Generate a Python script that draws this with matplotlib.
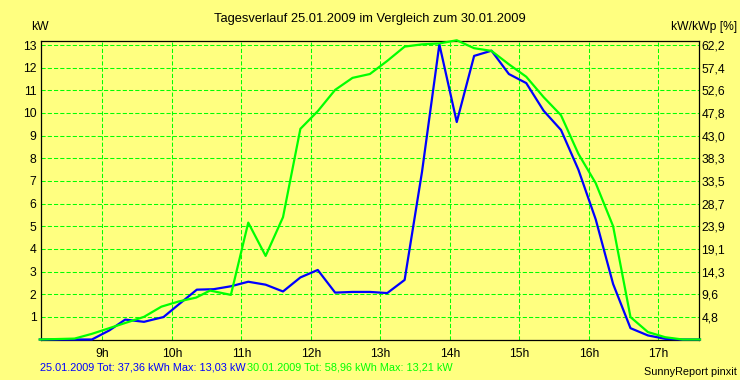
import matplotlib
matplotlib.use("Agg")
import matplotlib.pyplot as plt

# Tagesverlauf 25.01.2009 (blau) und 30.01.2009 (grün), Werte in kW
hours_a = [8.10, 8.60, 8.85, 9.10, 9.33, 9.49, 9.60, 9.73, 9.88, 10.10, 10.36, 10.60,
           10.85, 11.10, 11.35, 11.60, 11.85, 12.10, 12.35, 12.60, 12.85, 13.10, 13.35,
           13.60, 13.85, 14.10, 14.35, 14.60, 14.85, 15.10, 15.35, 15.60, 15.85, 16.10,
           16.35, 16.60, 16.85, 17.10, 17.35, 17.60]
power_a = [0.0, 0.0, 0.0, 0.40, 0.88, 0.82, 0.78, 0.88, 0.99, 1.55, 2.20, 2.22,
           2.35, 2.55, 2.42, 2.12, 2.74, 3.07, 2.07, 2.10, 2.10, 2.05, 2.63,
           7.40, 13.03, 9.60, 12.52, 12.75, 11.72, 11.32, 10.10, 9.25, 7.50, 5.30,
           2.45, 0.50, 0.18, 0.03, 0.0, 0.0]

hours_b = [8.10, 8.60, 8.85, 9.10, 9.35, 9.60, 9.85, 10.10, 10.35, 10.55, 10.85, 11.10,
           11.35, 11.60, 11.85, 12.10, 12.35, 12.60, 12.85, 13.10, 13.35, 13.60, 13.85,
           14.10, 14.35, 14.60, 14.85, 15.10, 15.35, 15.60, 15.85, 16.10, 16.35, 16.60,
           16.85, 17.10, 17.35, 17.60]
power_b = [0.0, 0.04, 0.25, 0.50, 0.75, 1.00, 1.45, 1.68, 1.85, 2.16, 1.97, 5.16,
           3.69, 5.40, 9.30, 10.08, 11.02, 11.55, 11.72, 12.30, 12.93, 13.03, 13.07,
           13.21, 12.86, 12.74, 12.15, 11.60, 10.70, 9.90, 8.20, 6.90, 5.00, 0.99,
           0.33, 0.10, 0.0, 0.0]

hour_ticks = [9, 10, 11, 12, 13, 14, 15, 16, 17]
hour_labels = ["9h", "10h", "11h", "12h", "13h", "14h", "15h", "16h", "17h"]
kw_ticks = [1, 2, 3, 4, 5, 6, 7, 8, 9, 10, 11, 12, 13]
pct_labels = ["4,8", "9,6", "14,3", "19,1", "23,9", "28,7", "33,5", "38,3",
              "43,0", "47,8", "52,6", "57,4", "62,2"]

title = "Tagesverlauf 25.01.2009 im Vergleich zum 30.01.2009"
info_a = "25.01.2009 Tot: 37,36 kWh Max: 13,03 kW"
info_b = "30.01.2009 Tot: 58,96 kWh Max: 13,21 kW"

BG = "#FFFF80"
BLUE = "#0000FF"
GREEN = "#00FF00"

plt.rcParams["font.family"] = ["Liberation Sans", "DejaVu Sans"]

fig = plt.figure(figsize=(7.4, 3.8), dpi=100, facecolor=BG)
ax = fig.add_axes([40.6 / 740, 1 - 339.5 / 380, 658 / 740, 299 / 380])
ax.set_facecolor(BG)

ax.set_xlim(8.112, 17.58)
ax.set_ylim(0, 13.2)
ax.set_xticks(hour_ticks)
ax.set_xticklabels(hour_labels)
ax.set_yticks(kw_ticks)
ax.tick_params(length=0, labelsize=8.7, pad=3)
ax.tick_params(axis="x", pad=6)
ax.grid(True, color=GREEN, linestyle=(0, (4, 2)), linewidth=0.75)
for sp in ax.spines.values():
    sp.set_linewidth(0.9)
    sp.set_color("black")

ax.plot(hours_a, power_a, color=BLUE, lw=1.6, clip_on=False, zorder=4)
ax.plot(hours_b, power_b, color=GREEN, lw=1.6, clip_on=False, zorder=5)

ax2 = ax.twinx()
ax2.set_ylim(ax.get_ylim())
ax2.set_yticks(kw_ticks)
ax2.set_yticklabels(pct_labels)
ax2.tick_params(length=0, labelsize=8.7, pad=2)
for sp in ax2.spines.values():
    sp.set_visible(False)

fig.text(370 / 740, 1 - 19 / 380, title, ha="center", va="center", fontsize=9.3)
fig.text(31 / 740, 1 - 27 / 380, "kW", ha="left", va="center", fontsize=8.7)
fig.text(737 / 740, 1 - 27 / 380, "kW/kWp [%]", ha="right", va="center", fontsize=8.7)

t1 = fig.text(40 / 740, 1 - 368 / 380, info_a, ha="left", va="center",
              fontsize=7.8, color=BLUE)
fig.canvas.draw()
fig.text((t1.get_window_extent().x1 + 1) / 740, 1 - 368 / 380, info_b, ha="left",
         va="center", fontsize=7.8, color=GREEN)
fig.text(737 / 740, 1 - 372 / 380, "SunnyReport pinxit", ha="right", va="center",
         fontsize=7.8)

fig.savefig("out.png", dpi=100, facecolor=BG)
